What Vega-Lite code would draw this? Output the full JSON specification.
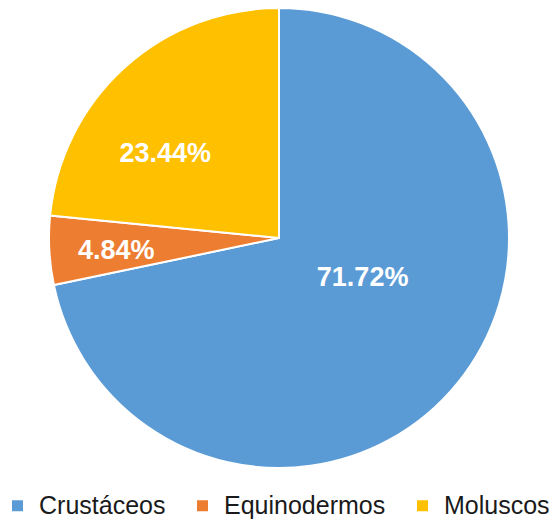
{
  "$schema": "https://vega.github.io/schema/vega-lite/v6.json",
  "width": 558,
  "height": 476,
  "padding": 0,
  "autosize": "pad",
  "background": "white",
  "data": {
    "values": [
      {"grupo": "Crustáceos", "pct": 0.7172},
      {"grupo": "Equinodermos", "pct": 0.0484},
      {"grupo": "Moluscos", "pct": 0.2344}
    ]
  },
  "encoding": {
    "theta": {"field": "pct", "type": "quantitative", "stack": true},
    "color": {
      "field": "grupo",
      "type": "nominal",
      "scale": {"domain": ["Crustáceos", "Equinodermos", "Moluscos"], "range": ["#5B9BD5", "#ED7D31", "#FFC000"]},
      "legend": {
        "title": null,
        "orient": "none",
        "legendX": 5,
        "legendY": 493,
        "direction": "horizontal",
        "symbolType": "square",
        "symbolSize": 121,
        "symbolStrokeWidth": 0,
        "labelFont": "Liberation Sans",
        "labelFontSize": 25,
        "labelColor": "#1a1a1a",
        "labelOffset": 9,
        "columnPadding": 24,
        "labelLimit": 300
      }
    },
    "order": {"field": "grupo"}
  },
  "layer": [
    {"mark": {"type": "arc", "radius": 230, "stroke": "white", "strokeWidth": 2}},
    {
      "mark": {"type": "text", "radius": 100, "dx": 6, "dy": -23, "font": "Liberation Sans", "fontSize": 27, "fontWeight": "bold", "fill": "white"},
      "encoding": {"text": {"condition": {"test": "datum.grupo === 'Crustáceos'", "field": "pct", "type": "quantitative", "format": ".2%"}, "value": ""}}
    },
    {
      "mark": {"type": "text", "radius": 163, "dx": 0, "dy": 4, "font": "Liberation Sans", "fontSize": 27, "fontWeight": "bold", "fill": "white"},
      "encoding": {"text": {"condition": {"test": "datum.grupo === 'Equinodermos'", "field": "pct", "type": "quantitative", "format": ".2%"}, "value": ""}}
    },
    {
      "mark": {"type": "text", "radius": 141, "dx": -19, "dy": 20, "font": "Liberation Sans", "fontSize": 27, "fontWeight": "bold", "fill": "white"},
      "encoding": {"text": {"condition": {"test": "datum.grupo === 'Moluscos'", "field": "pct", "type": "quantitative", "format": ".2%"}, "value": ""}}
    }
  ]
}
